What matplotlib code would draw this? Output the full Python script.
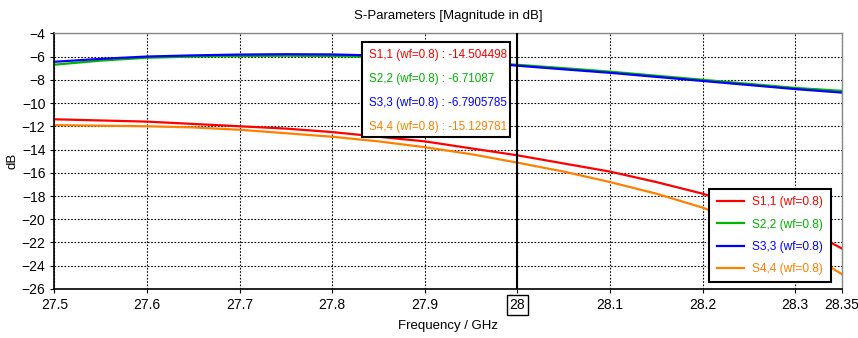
import matplotlib
matplotlib.use("Agg")
import matplotlib.pyplot as plt
from matplotlib.patches import Rectangle

# Data
freq = [27.5, 27.55, 27.6, 27.65, 27.7, 27.75, 27.8, 27.85, 27.9, 27.95,
        28.0, 28.05, 28.1, 28.15, 28.2, 28.25, 28.3, 28.35]
s11 = [-11.4, -11.5, -11.6, -11.8, -12.0, -12.2, -12.5, -12.9, -13.3, -13.9,
       -14.5, -15.2, -15.9, -16.8, -17.8, -19.0, -20.4, -22.5]
s22 = [-6.7, -6.35, -6.1, -6.0, -5.95, -5.93, -5.95, -6.05, -6.2, -6.45,
       -6.71, -7.0, -7.3, -7.65, -8.0, -8.35, -8.7, -8.95]
s33 = [-6.45, -6.2, -6.0, -5.9, -5.83, -5.8, -5.82, -5.92, -6.1, -6.42,
       -6.79, -7.1, -7.4, -7.75, -8.1, -8.45, -8.8, -9.1]
s44 = [-11.9, -11.95, -12.0, -12.1, -12.3, -12.6, -12.9, -13.3, -13.8, -14.4,
       -15.13, -15.9, -16.8, -17.8, -19.0, -20.5, -22.3, -24.7]

names = ['S1,1 (wf=0.8)', 'S2,2 (wf=0.8)', 'S3,3 (wf=0.8)', 'S4,4 (wf=0.8)']
marker_values = ['-14.504498', '-6.71087', '-6.7905785', '-15.129781']
marker_freq = 28.0
colors = ['#ff0000', '#00b400', '#0000ff', '#ff8000']

x_ticks = [27.5, 27.6, 27.7, 27.8, 27.9, 28.0, 28.1, 28.2, 28.3, 28.35]
x_tick_labels = ['27.5', '27.6', '27.7', '27.8', '27.9', '28', '28.1', '28.2', '28.3', '28.35']
y_ticks = list(range(-26, -3, 2))

plt.rcParams['font.family'] = ['Liberation Sans', 'DejaVu Sans']

fig = plt.figure(figsize=(8.58, 3.38), dpi=100)
ax = fig.add_axes([0.0635, 0.145, 0.9173, 0.7565])

series = [s11, s22, s33, s44]
for vals, name, c in zip(series, names, colors):
    ax.plot(freq, vals, color=c, linewidth=1.6, label=name)

ax.set_xlim(27.5, 28.35)
ax.set_ylim(-26, -4)
ax.set_xticks(x_ticks)
ax.set_xticklabels(x_tick_labels)
ax.set_yticks(y_ticks)

# dotted grid
ax.grid(True, color='black', linestyle=(0, (1.5, 1.5)), linewidth=0.8)
ax.tick_params(axis='both', direction='out', length=3, labelsize=10, color='black')

for side in ['left', 'bottom']:
    ax.spines[side].set_color('black')
    ax.spines[side].set_linewidth(1.2)
for side in ['top', 'right']:
    ax.spines[side].set_color('#888888')
    ax.spines[side].set_linewidth(1.0)

# marker line
ax.axvline(marker_freq, color='black', linewidth=1.5, zorder=5)
for lbl in ax.get_xticklabels():
    if lbl.get_text() == '28':
        lbl.set_bbox(dict(facecolor='white', edgecolor='black', linewidth=1.0, pad=2))

ax.set_title('S-Parameters [Magnitude in dB]', fontsize=9.5, pad=10)
ax.set_xlabel('Frequency / GHz', fontsize=9.5, labelpad=6)
ax.set_ylabel('dB', fontsize=9.5, labelpad=2)

# marker readout box
box = Rectangle((0.391, 0.594), 0.188, 0.372, transform=ax.transAxes,
                facecolor='white', edgecolor='black', linewidth=1.5, zorder=10)
ax.add_patch(box)
line_y = [0.915, 0.821, 0.727, 0.634]
for name, val, c, yy in zip(names, marker_values, colors, line_y):
    ax.text(0.399, yy, f'{name} : {val}', transform=ax.transAxes, color=c,
            fontsize=8.4, va='center', ha='left', zorder=11)

leg = ax.legend(loc='lower right', bbox_to_anchor=(0.986, 0.027),
                prop={'size': 8.6}, framealpha=1.0,
                frameon=True, fancybox=False, handlelength=2.3, handletextpad=0.7,
                borderpad=0.6, labelspacing=0.85, borderaxespad=0)
leg.get_frame().set_edgecolor('black')
leg.get_frame().set_linewidth(1.5)
leg.set_zorder(12)
for txt, c in zip(leg.get_texts(), colors):
    txt.set_color(c)

fig.savefig('out.png', dpi=100)
